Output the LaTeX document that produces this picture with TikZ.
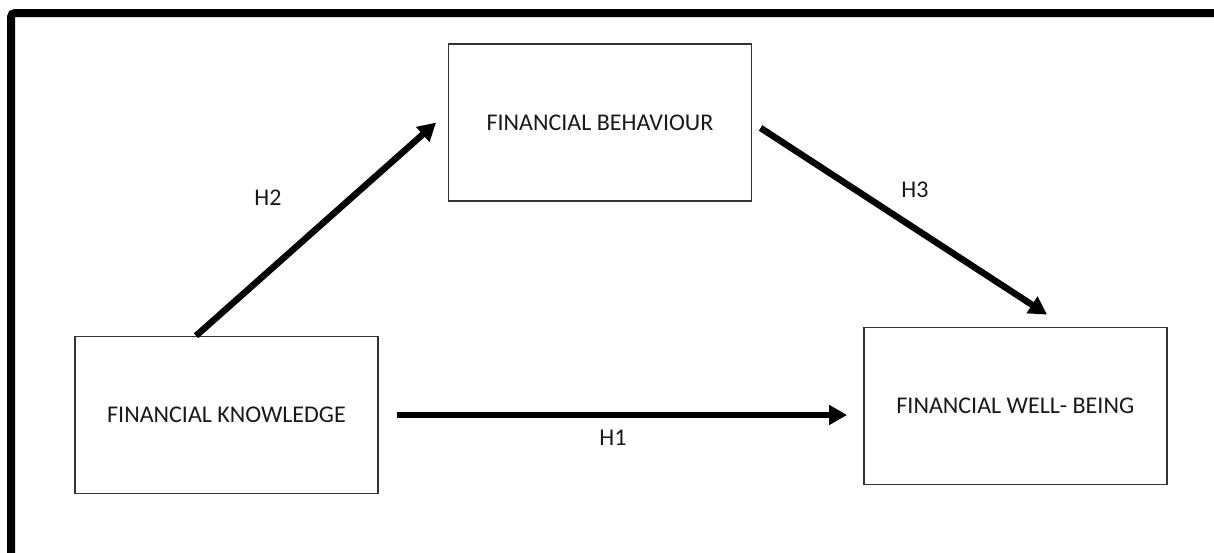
\documentclass[tikz,border=0pt]{standalone}
\usepackage{fontspec}
\setmainfont{Carlito}
\usetikzlibrary{arrows.meta,calc}
\begin{document}
\begin{tikzpicture}[x=1pt,y=-1pt,
  box/.style={draw=black!80,line width=1.4pt,fill=white,inner sep=0pt,
    minimum width=303pt,minimum height=157pt,font=\fontsize{24}{28}\selectfont,text=black!90},
  lbl/.style={inner sep=0pt,font=\fontsize{24}{28}\selectfont,text=black!90},
  arr/.style={line width=6.5pt,-{Triangle[length=18pt,width=19pt]}}]
\useasboundingbox (0,0) rectangle (1214,552);
\fill[white] (0,0) rectangle (1214,552);
\draw[line width=8pt,rounded corners=4pt] (11,560) -- (11,13) -- (1220,13);
\node[box] (fk) at (226.5,415) {FINANCIAL KNOWLEDGE};
\node[box] (fb) at (600,122.5) {FINANCIAL BEHAVIOUR};
\node[box] (fw) at (1015.3,406.2) {FINANCIAL WELL- BEING};
\coordinate (h2s) at ([xshift=-30.5pt]fk.north);
\coordinate (h2e) at ([yshift=10.3pt]fb.west);
\coordinate (h3e) at ([xshift=50.8pt]fw.north);
\draw[arr,shorten <=18pt,shorten >=16pt] (fk.east) -- (fk.east -| fw.west);
\draw[arr,shorten >=15.6pt] (h2s) -- (h2e);
\draw[arr,shorten <=10pt,shorten >=22.7pt] (fb.east) -- (h3e);
\node[lbl] (h1) at (613,438) {H1};
\node[lbl] (h2) at (268,198) {H2};
\node[lbl] (h3) at (915,190) {H3};
\end{tikzpicture}
\end{document}
